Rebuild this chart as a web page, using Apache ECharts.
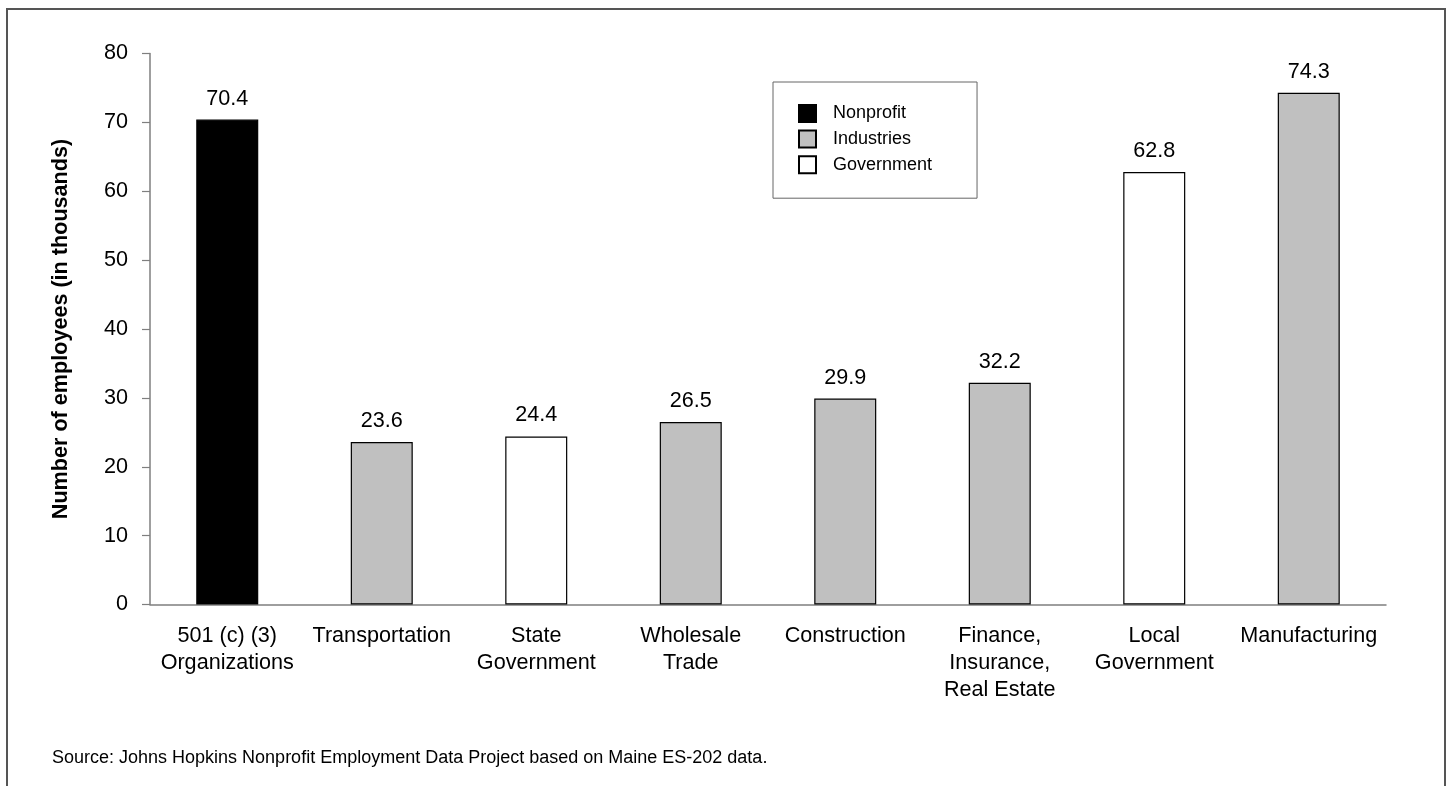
<!DOCTYPE html>
<html>
<head>
<meta charset="utf-8">
<title>Employment by sector</title>
<script src="https://cdn.jsdelivr.net/npm/echarts@6/dist/echarts.min.js"></script>
<style>
  html, body { margin: 0; padding: 0; background: #fff; }
  #chart { width: 1449px; height: 786px; }
</style>
</head>
<body>
<div id="chart"></div>
<script>
// Employees (thousands) per sector
const categories = [
  '501 (c) (3)\nOrganizations',
  'Transportation',
  'State\nGovernment',
  'Wholesale\nTrade',
  'Construction',
  'Finance,\nInsurance,\nReal Estate',
  'Local\nGovernment',
  'Manufacturing'
];
const employees = [70.4, 23.6, 24.4, 26.5, 29.9, 32.2, 62.8, 74.3];
const sectorGroup = ['Nonprofit', 'Industries', 'Government', 'Industries', 'Industries', 'Industries', 'Government', 'Industries'];
const groupNames = ['Nonprofit', 'Industries', 'Government'];
const groupFill = { Nonprofit: '#000000', Industries: '#c0c0c0', Government: '#ffffff' };
const yTicks = [0, 10, 20, 30, 40, 50, 60, 70, 80];

const FONT = '"Liberation Sans", Arial, Helvetica, sans-serif';

const series = groupNames.map(name => ({
  name: name,
  type: 'bar',
  barWidth: 62,
  barGap: '-100%',
  data: employees.map((v, i) => sectorGroup[i] === name ? v : '-'),
  itemStyle: { color: groupFill[name], borderColor: '#000', borderWidth: 1.2 },
  label: {
    show: true,
    position: 'top',
    distance: 10,
    color: '#000',
    fontFamily: FONT,
    fontSize: 21.6,
    formatter: p => p.value.toFixed(1)
  },
  emphasis: { disabled: true },
  silent: true
}));

const chart = echarts.init(document.getElementById('chart'), null, { renderer: 'canvas' });
chart.setOption({
  animation: false,
  backgroundColor: '#fff',
  textStyle: { fontFamily: FONT },
  grid: { left: 150, right: 63, top: 53.5, bottom: 181.5, containLabel: false },
  legend: {
    data: groupNames,
    orient: 'vertical',
    left: 773,
    top: 82,
    selectedMode: false,
    icon: 'rect',
    itemWidth: 17,
    itemHeight: 17,
    itemGap: 6.6,
    padding: [22, 45, 24, 25],
    borderColor: '#666',
    borderWidth: 1,
    backgroundColor: '#fff',
    textStyle: { fontFamily: FONT, fontSize: 18, color: '#000', lineHeight: 17, padding: [0, 0, 0, 12] }
  },
  xAxis: {
    type: 'category',
    data: categories,
    axisLine: { lineStyle: { color: '#7f7f7f', width: 1.5 } },
    axisTick: { show: false },
    axisLabel: { color: '#000', fontFamily: FONT, fontSize: 21.6, lineHeight: 27, margin: 18, interval: 0 }
  },
  yAxis: {
    type: 'value',
    min: yTicks[0],
    max: yTicks[yTicks.length - 1],
    interval: 10,
    name: 'Number of employees (in thousands)',
    nameLocation: 'middle',
    nameGap: 78,
    nameTextStyle: { color: '#000', fontFamily: FONT, fontSize: 21.6, fontWeight: 'bold' },
    splitLine: { show: false },
    axisLine: { show: true, lineStyle: { color: '#7f7f7f', width: 1.5 } },
    axisTick: { show: true, length: 8, lineStyle: { color: '#7f7f7f', width: 1.2 } },
    axisLabel: { color: '#000', fontFamily: FONT, fontSize: 21.6, margin: 22 }
  },
  graphic: [
    {
      type: 'rect',
      shape: { x: 7, y: 9, width: 1438, height: 800 },
      style: { fill: 'none', stroke: '#555', lineWidth: 2 },
      silent: true
    },
    {
      type: 'text',
      x: 52,
      y: 758,
      style: {
        text: 'Source: Johns Hopkins Nonprofit Employment Data Project based on Maine ES-202 data.',
        fill: '#000',
        font: '18px ' + FONT,
        textVerticalAlign: 'middle'
      },
      silent: true
    }
  ],
  series: series
});
</script>
</body>
</html>
